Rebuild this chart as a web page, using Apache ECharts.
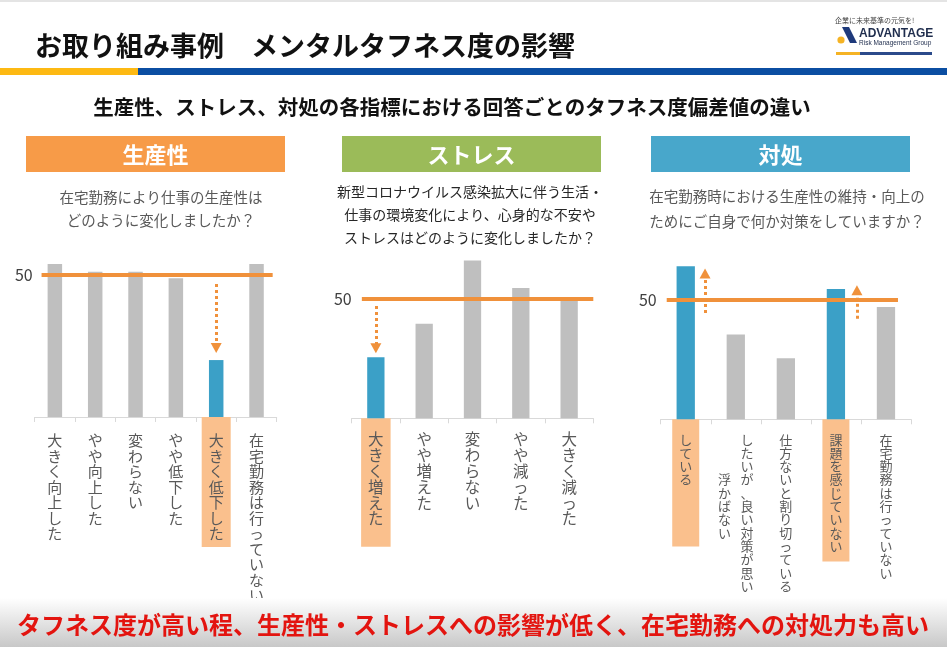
<!DOCTYPE html>
<html><head><meta charset="utf-8">
<script src="https://cdn.jsdelivr.net/npm/echarts@6/dist/echarts.min.js"></script>
<style>html,body{margin:0;padding:0;background:#fff}#c{width:947px;height:647px}</style>
</head><body><div id="c"></div>
<script>
// ---- data ----
const pageTitle = 'お取り組み事例　メンタルタフネス度の影響';
const subTitle = '生産性、ストレス、対処の各指標における回答ごとのタフネス度偏差値の違い';
const conclusion = 'タフネス度が高い程、生産性・ストレスへの影響が低く、在宅勤務への対処力も高い';
const headers = ['生産性', 'ストレス', '対処'];
const questions1 = ['在宅勤務により仕事の生産性は', 'どのように変化しましたか？'];
const questions2 = ['新型コロナウイルス感染拡大に伴う生活・', '仕事の環境変化により、心身的な不安や', 'ストレスはどのように変化しましたか？'];
const questions3 = ['在宅勤務時における生産性の維持・向上の', 'ためにご自身で何か対策をしていますか？'];

const cats1 = ['大きく向上した', 'やや向上した', '変わらない', 'やや低下した', '大きく低下した', '在宅勤務は行っていない'];
const vals1 = [50.75, 50.2, 50.2, 49.75, 44.0, 50.75];
const hl1 = [4];
const cats2 = ['大きく増えた', 'やや増えた', '変わらない', 'やや減った', '大きく減った'];
const vals2 = [45.1, 47.9, 53.2, 50.9, 49.9];
const hl2 = [0];
const cats3 = ['している', 'したいが、良い対策が思い浮かばない', '仕方ないと割り切っている', '課題を感じていない', '在宅勤務は行っていない'];
const vals3 = [52.8, 47.1, 45.1, 50.9, 49.4];
const hl3 = [0, 3];
const refValue = 50;
const yTicks = [50];
// annotation arrows: [x position on category scale, from value, to value]
const arrows1 = [[4.5, 49.35, 44.85]];
const arrows2 = [[0.5, 49.4, 45.85]];
const arrows3 = [[0.886, 48.9, 52.2], [3.92, 48.4, 50.8]];

// ---- styles ----
const FONT = '"Noto Sans CJK JP", "Noto Sans", sans-serif';
const ORANGE = '#F0913B', GRAY = '#BFBFBF', BLUE = '#3BA0C7', PEACH = '#FAC08D';
const panels = [
  {cats: cats1, vals: vals1, hl: hl1, arrows: arrows1, grid: {left: 34.7, width: 242, top: 246.2, height: 170.8}, yMax: 52,
   barWidth: 14.5, fs: 15, lh: 15.5, padTop: 16, hlPadBottom: {4: 5.5}, colLen: 12, refSpan: [0.17, 5.9], yMargin: 2},
  {cats: cats2, vals: vals2, hl: hl2, arrows: arrows2, grid: {left: 351.7, width: 241.6, top: 250.9, height: 167.4}, yMax: 54,
   barWidth: 17.3, fs: 15.5, lh: 15.8, padTop: 13.4, hlPadBottom: {0: 20.2}, colLen: 12, refSpan: [0.21, 5.0], yMargin: 0},
  {cats: cats3, vals: vals3, hl: hl3, arrows: arrows3, grid: {left: 660.7, width: 250.3, top: 251.9, height: 167.4}, yMax: 54,
   barWidth: 18.3, fs: 13, lh: 13.3, padTop: 13.7, hlPadBottom: {0: 60.4, 3: 8.9}, colLen: 12, refSpan: [0.12, 4.74], yMargin: 4}
];

function vertical(text, colLen, gap) {
  const chars = Array.from(text);
  if (chars.length <= colLen) return chars.join('\n');
  const cols = [];
  for (let i = 0; i < chars.length; i += colLen) cols.push(chars.slice(i, i + colLen));
  const rows = cols[0].length;
  const offs = cols.map(c => Math.floor((rows - c.length) / 2));
  const lines = [];
  for (let r = 0; r < rows; r++) {
    const parts = [];
    for (let k = cols.length - 1; k >= 0; k--) {
      const idx = r - offs[k];
      parts.push(idx >= 0 && idx < cols[k].length ? cols[k][idx] : '\u3000');
    }
    lines.push(parts.join(gap));
  }
  return lines.join('\n');
}

const grids = [], xAxes = [], yAxes = [], series = [];
panels.forEach((p, k) => {
  grids.push(Object.assign({containLabel: false}, p.grid));
  const hpad = 7;
  xAxes.push({
    type: 'category', gridIndex: k,
    data: p.cats.map((c, i) => p.hl.includes(i)
      ? {value: c, textStyle: {backgroundColor: PEACH, padding: [p.padTop, hpad, p.hlPadBottom[i], hpad]}}
      : c),
    axisLine: {lineStyle: {color: '#D9D9D9', width: 1}},
    axisTick: {show: true, length: 5, lineStyle: {color: '#D9D9D9'}},
    axisLabel: {interval: 0, margin: 0, fontSize: p.fs, lineHeight: p.lh, color: '#595959', fontFamily: FONT,
      align: 'center', verticalAlign: 'top', padding: [p.padTop, 0, 0, 0],
      formatter: v => vertical(v, p.colLen, ' \u2002')}
  });
  xAxes.push({type: 'value', gridIndex: k, min: 0, max: p.cats.length, show: false});
  yAxes.push({
    type: 'value', gridIndex: k, min: 40, max: p.yMax, interval: 10,
    axisLine: {show: false}, axisTick: {show: false}, splitLine: {show: false},
    axisLabel: {margin: p.yMargin, fontSize: 16, color: '#404040', fontFamily: FONT,
      formatter: v => yTicks.includes(v) ? String(v) : ''}
  });
  series.push({
    type: 'bar', xAxisIndex: 2 * k, yAxisIndex: k, barWidth: p.barWidth, silent: true, animation: false,
    data: p.vals.map((v, i) => ({value: v, itemStyle: {color: p.hl.includes(i) ? BLUE : GRAY}}))
  });
  series.push({
    type: 'line', xAxisIndex: 2 * k + 1, yAxisIndex: k, data: [], silent: true, animation: false,
    markLine: {silent: true, animation: false, symbol: ['none', 'none'], label: {show: false},
      lineStyle: {color: ORANGE, width: 4, type: 'solid'}, emphasis: {disabled: true},
      data: [[{coord: [p.refSpan[0], refValue]}, {coord: [p.refSpan[1], refValue]}]]}
  });
  series.push({
    type: 'line', xAxisIndex: 2 * k + 1, yAxisIndex: k, data: [], silent: true, animation: false,
    markLine: {silent: true, animation: false, symbol: ['none', 'triangle'], symbolSize: [11, 10], label: {show: false},
      lineStyle: {color: ORANGE, width: 3, type: [3, 3], opacity: 1}, emphasis: {disabled: true},
      data: p.arrows.map(a => [{coord: [a[0], a[1]]}, {coord: [a[0], a[2]]}])}
  });
});

const headerBoxes = [
  {x: 26, color: '#F79B48'}, {x: 342, color: '#9BBB59'}, {x: 651, color: '#48A7CB'}
];
const graphic = [
  {type: 'rect', shape: {x: 0, y: 0, width: 947, height: 2}, style: {fill: '#E4E4E4'}},
  {type: 'text', x: 35, y: 46, style: {text: pageTitle, font: 'bold 27px ' + FONT, fill: '#111', textVerticalAlign: 'middle'}},
  {type: 'rect', shape: {x: 0, y: 68, width: 138, height: 7}, style: {fill: '#FDB913'}},
  {type: 'rect', shape: {x: 138, y: 68, width: 809, height: 7}, style: {fill: '#0B4EA2'}},
  // logo
  {type: 'text', x: 835, y: 20, style: {text: '企業に未来基準の元気を!', font: '7px ' + FONT, fill: '#444', textVerticalAlign: 'middle'}},
  {type: 'polygon', shape: {points: [[842, 27], [849, 27], [857, 43], [850, 43]]}, style: {fill: '#1E3A7B'}},
  {type: 'circle', shape: {cx: 841, cy: 40, r: 3.6}, style: {fill: '#F5B324'}},
  {type: 'text', x: 859, y: 34, style: {text: 'ADVANTAGE', font: 'bold 12px "Liberation Sans", Arial, sans-serif', fill: '#1F2D4D', textVerticalAlign: 'middle'}},
  {type: 'text', x: 859, y: 43, style: {text: 'Risk Management Group', font: '6.5px "Liberation Sans", Arial, sans-serif', fill: '#1F2D4D', textVerticalAlign: 'middle'}},
  {type: 'rect', shape: {x: 836, y: 52, width: 24, height: 3}, style: {fill: '#F5B324'}},
  {type: 'rect', shape: {x: 860, y: 52, width: 72, height: 3}, style: {fill: '#2B4A8B'}},
  // subtitle
  {type: 'text', x: 452, y: 107, style: {text: subTitle, font: 'bold 20.5px ' + FONT, fill: '#111', textAlign: 'center', textVerticalAlign: 'middle'}},
];
headerBoxes.forEach((h, i) => {
  graphic.push({type: 'rect', shape: {x: h.x, y: 136, width: 259, height: 36}, style: {fill: h.color}});
  graphic.push({type: 'text', x: h.x + 129.5, y: 155, style: {text: headers[i], font: 'bold 22px ' + FONT, fill: '#fff', textAlign: 'center', textVerticalAlign: 'middle'}});
});
questions1.forEach((t, i) => graphic.push({type: 'text', x: 161, y: 197 + i * 23.5, style: {text: t, font: '14.5px ' + FONT, fill: '#595959', textAlign: 'center', textVerticalAlign: 'middle'}}));
questions2.forEach((t, i) => graphic.push({type: 'text', x: 470, y: 192 + i * 23, style: {text: t, font: '14px ' + FONT, fill: '#262626', textAlign: 'center', textVerticalAlign: 'middle'}}));
questions3.forEach((t, i) => graphic.push({type: 'text', x: 787, y: 196 + i * 25, style: {text: t, font: '14.5px ' + FONT, fill: '#595959', textAlign: 'center', textVerticalAlign: 'middle'}}));
// bottom banner
graphic.push({type: 'rect', z: 100, shape: {x: 0, y: 598, width: 947, height: 49},
  style: {fill: new echarts.graphic.LinearGradient(0, 0, 0, 1, [{offset: 0, color: '#FFFFFF'}, {offset: 1, color: '#C8C8C8'}])}});
graphic.push({type: 'text', z: 101, x: 473, y: 625, style: {text: conclusion, font: 'bold 24px ' + FONT, fill: '#E3140F', textAlign: 'center', textVerticalAlign: 'middle'}});

const chart = echarts.init(document.getElementById('c'), null, {renderer: 'canvas'});
chart.setOption({
  animation: false,
  backgroundColor: '#fff',
  textStyle: {fontFamily: FONT},
  grid: grids, xAxis: xAxes, yAxis: yAxes, series: series,
  graphic: {elements: graphic}
});
</script>
</body></html>
